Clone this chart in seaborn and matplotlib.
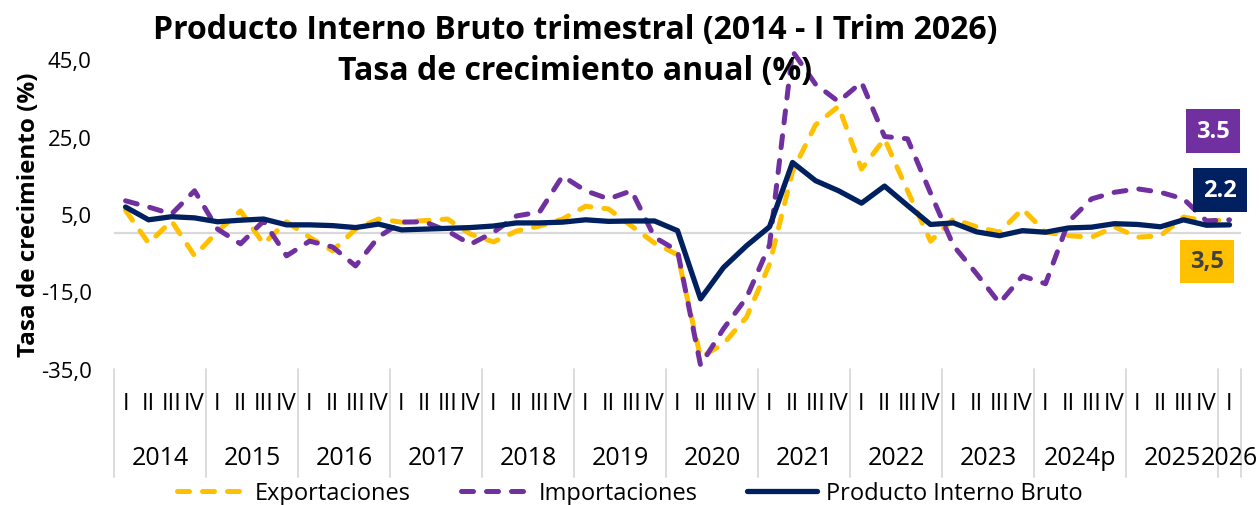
import matplotlib
matplotlib.use('Agg')
import matplotlib.pyplot as plt
import matplotlib.transforms as mtransforms
import seaborn as sns
import numpy as np
import pandas as pd

sns.set_style('white')
plt.rcParams['font.family'] = ['Open Sans', 'DejaVu Sans']
plt.rcParams['text.color'] = 'black'
plt.rcParams['axes.labelcolor'] = 'black'
plt.rcParams['xtick.color'] = 'black'
plt.rcParams['ytick.color'] = 'black'

# ---Data---
years = ['2014', '2015', '2016', '2017', '2018', '2019', '2020', '2021',
         '2022', '2023', '2024p', '2025', '2026']
quarters_per_year = [4, 4, 4, 4, 4, 4, 4, 4, 4, 4, 4, 4, 1]
quarter_names = ['I', 'II', 'III', 'IV']

exportaciones = [5.9, -2.5, 3.2, -5.8, 0.5, 5.8, -2.7, 3.0,
                 -1.0, -4.5, 1.1, 3.7, 2.9, 3.3, 3.7, -0.2,
                 -2.2, 0.6, 1.9, 3.7, 7.0, 6.3, 1.9, -2.5,
                 -5.5, -32.0, -28.5, -21.6, -8.0, 16.0, 28.0, 32.8,
                 16.6, 24.4, 11.0, -2.0, 3.7, 1.7, 0.3, 6.3,
                 0.3, -0.6, -1.0, 1.7, -1.0, -0.6, 4.2, 3.2,
                 3.5]
importaciones = [8.4, 6.8, 5.0, 11.0, 1.1, -2.7, 3.2, -5.8,
                 -2.0, -3.5, -8.4, -0.9, 2.9, 3.0, 0.6, -2.8,
                 0.3, 4.5, 5.5, 14.8, 11.0, 8.9, 11.0, -1.0,
                 -4.5, -34.0, -24.6, -16.6, -3.0, 47.0, 38.5, 34.0,
                 39.0, 25.0, 24.4, 10.4, -3.2, -10.4, -18.0, -11.0,
                 -13.0, 3.0, 8.9, 10.6, 11.5, 10.6, 8.9, 3.2,
                 3.5]
pib = [6.8, 3.5, 4.3, 4.0, 3.0, 3.4, 3.7, 2.2,
       2.2, 2.0, 1.5, 2.4, 0.9, 1.1, 1.3, 1.5,
       1.9, 2.7, 2.7, 2.9, 3.5, 3.1, 3.2, 3.2,
       0.7, -16.9, -8.8, -3.2, 1.7, 18.3, 13.6, 11.0,
       7.8, 12.2, 7.2, 2.3, 2.7, 0.4, -0.6, 0.7,
       0.3, 1.4, 1.6, 2.5, 2.3, 1.7, 3.5, 2.1,
       2.2]

series = ['Exportaciones', 'Importaciones', 'Producto Interno Bruto']
colores = {'Exportaciones': '#FFC000', 'Importaciones': '#7030A0',
           'Producto Interno Bruto': '#002060'}

quarter_labels = [quarter_names[q] for n in quarters_per_year for q in range(n)]
n_q = len(quarter_labels)

df = pd.DataFrame({
    'idx': np.tile(np.arange(n_q), 3),
    'valor': exportaciones + importaciones + pib,
    'serie': np.repeat(series, n_q),
})

# ---Plotting---
fig = plt.figure(figsize=(12.59, 5.06), dpi=100)
ax = fig.add_axes([0.0906, 0.2688, 0.8951, 0.6126])

sns.lineplot(data=df, x='idx', y='valor', hue='serie', style='serie',
             hue_order=series, style_order=series, palette=colores,
             dashes={'Exportaciones': (2.4, 2.6), 'Importaciones': (2.4, 2.6),
                     'Producto Interno Bruto': ''},
             legend=False, ax=ax)
lines = ax.lines[:3]
for line, lw in zip(lines, [3.6, 3.6, 3.8]):
    line.set_linewidth(lw)
    line.set_clip_on(False)
    line.set_dash_capstyle('round')
    line.set_solid_joinstyle('round')

ax.axhline(0, color='#D9D9D9', lw=1.6, zorder=0)
ax.set_xlim(-0.5, n_q - 0.5)
ax.set_ylim(-35, 45)
for s in ax.spines.values():
    s.set_visible(False)

yt = np.arange(-35, 46, 20)
ax.set_yticks(yt)
ax.set_yticklabels([f'{v:.1f}'.replace('.', ',') for v in yt])
ax.tick_params(axis='y', length=0, pad=16, labelsize=16)
ax.set_xticks(range(n_q))
ax.set_xticklabels(quarter_labels)
ax.tick_params(axis='x', length=0, pad=16, labelsize=17)
ax.set_xlabel('')
ax.set_ylabel('Tasa de crecimiento (%)', fontsize=17.5, fontweight='bold')
ax.yaxis.set_label_coords(-0.0648, 0.5)

# year labels and separators under the quarter labels
trans = mtransforms.blended_transform_factory(ax.transData, ax.transAxes)
start = 0
for year, n in zip(years, quarters_per_year):
    ax.plot([start - 0.5, start - 0.5], [0, -0.35], transform=trans,
            color='#D9D9D9', lw=1.3, clip_on=False)
    ax.text(start + (n - 1) / 2, -0.284, year, transform=trans,
            ha='center', va='center', fontsize=18)
    start += n
ax.plot([start - 0.5, start - 0.5], [0, -0.35], transform=trans,
        color='#D9D9D9', lw=1.3, clip_on=False)

# last value labels
etiquetas = [
    ('Importaciones', f'{importaciones[-1]:.1f}', 'white', (-12, 64)),
    ('Producto Interno Bruto', f'{pib[-1]:.1f}', 'white', (-7, 25)),
    ('Exportaciones', f'{exportaciones[-1]:.1f}'.replace('.', ','), '#404040', (-16, -30)),
]
ultimos = {'Exportaciones': exportaciones[-1], 'Importaciones': importaciones[-1],
           'Producto Interno Bruto': pib[-1]}
for nombre, texto, tcolor, off in etiquetas:
    ax.annotate(texto, (n_q - 1, ultimos[nombre]), textcoords='offset points',
                xytext=off, ha='center', va='center', fontsize=17,
                fontweight='bold', color=tcolor, annotation_clip=False,
                bbox=dict(boxstyle='square,pad=0.42', fc=colores[nombre], ec='none'))

fig.text(575 / 1259, 1 - 51 / 506,
         'Producto Interno Bruto trimestral (2014 - I Trim 2026)\nTasa de crecimiento anual (%)',
         ha='center', va='center', fontsize=23, fontweight='bold', linespacing=1.35)

fig.legend(lines, series, loc='center', bbox_to_anchor=(0.5, 0.024), ncol=3,
           frameon=False, fontsize=17, handlelength=2.97, handletextpad=0.34,
           columnspacing=2.1)

fig.savefig('out.png', dpi=100)
